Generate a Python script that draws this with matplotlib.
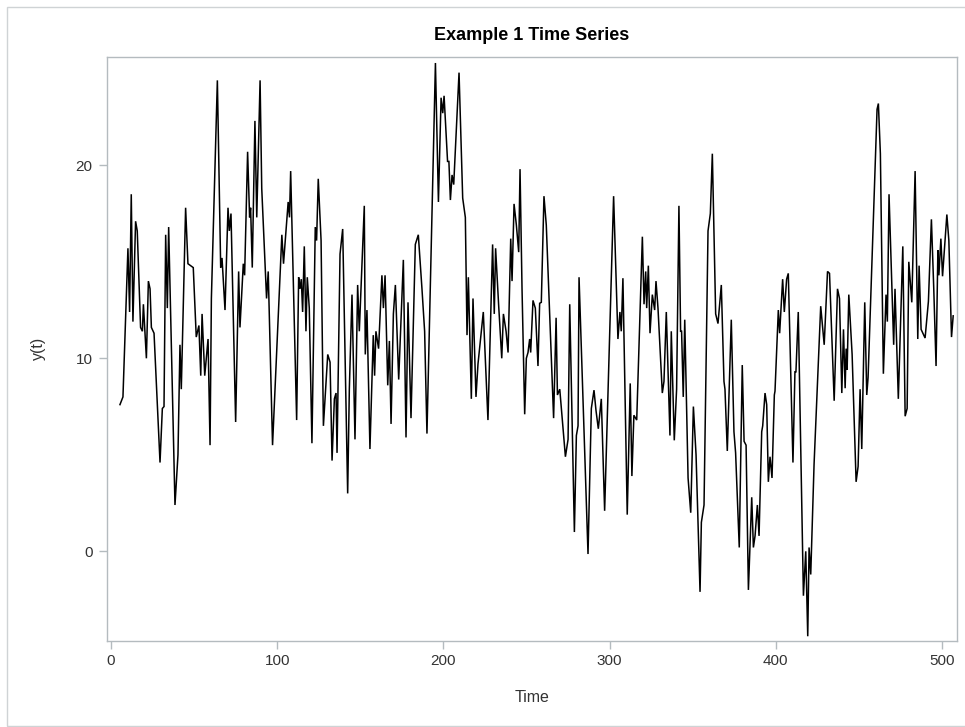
import matplotlib
matplotlib.use("Agg")
import matplotlib.pyplot as plt
from matplotlib.patches import Rectangle

# Turning points of the series (time, y(t))
time = [
    5.4, 7.2, 10.2, 11.2, 12.2, 13.2, 14.8, 15.8, 17.8, 18.9, 19.5, 21.3, 22.5, 23.5, 24.3, 25.9,
    29.5, 30.9, 31.9, 32.9, 33.9, 34.7, 38.5, 40.3, 41.5, 42.3, 44.9, 46.3, 49.5, 51.3, 52.9, 54.0,
    54.8, 56.4, 58.4, 59.6, 60.4, 64.0, 66.0, 66.8, 68.6, 70.4, 71.2, 72.2, 75.0, 76.8, 77.6, 79.6,
    80.4, 82.2, 83.4, 84.0, 85.0, 86.6, 87.7, 89.7, 90.7, 93.6, 94.6, 97.2, 102.8, 103.8, 106.6,
    107.4, 108.1, 111.7, 112.9, 113.7, 114.5, 115.3, 116.3, 117.3, 118.1, 119.3, 120.9, 122.9,
    123.7, 124.7, 126.4, 127.8, 130.4, 131.8, 133.0, 134.4, 135.4, 136.0, 137.8, 139.4, 142.4,
    143.4, 145.0, 146.8, 148.4, 149.4, 150.4, 152.4, 153.0, 154.0, 155.8, 157.8, 158.6, 159.4,
    161.0, 163.0, 163.9, 164.9, 166.5, 167.5, 168.5, 169.9, 171.1, 173.1, 175.9, 177.5, 178.7,
    180.5, 183.1, 184.9, 187.1, 188.7, 190.1, 195.2, 197.0, 198.6, 199.6, 200.4, 202.5, 203.3,
    204.2, 205.2, 206.2, 209.4, 211.6, 213.2, 214.2, 215.0, 216.8, 217.8, 219.6, 220.8, 224.0,
    226.8, 229.6, 230.6, 231.4, 233.2, 235.1, 236.1, 237.7, 238.9, 240.5, 241.3, 242.5, 243.9,
    245.3, 246.1, 247.3, 248.9, 249.9, 250.9, 251.9, 252.5, 253.9, 255.3, 256.9, 257.9, 258.9,
    260.5, 261.9, 266.3, 267.8, 268.6, 270.0, 273.4, 275.0, 276.0, 278.8, 280.0, 281.0, 281.6,
    287.0, 289.0, 290.6, 291.8, 293.2, 295.0, 297.0, 302.4, 305.0, 306.2, 307.0, 308.0, 310.6,
    312.4, 313.4, 314.6, 316.3, 319.7, 320.7, 321.7, 322.3, 323.3, 324.3, 325.7, 327.1, 327.9,
    329.1, 331.7, 332.7, 334.1, 336.3, 337.1, 338.9, 340.3, 341.7, 342.7, 343.3, 344.3, 345.2,
    347.2, 348.8, 350.4, 352.0, 354.4, 355.2, 356.8, 359.2, 360.6, 361.8, 363.8, 365.2, 367.2,
    368.8, 369.4, 370.8, 373.2, 374.8, 375.8, 378.0, 379.8, 380.9, 382.1, 383.5, 385.5, 386.5,
    387.5, 388.9, 389.9, 391.5, 392.1, 393.5, 394.5, 395.5, 396.5, 397.7, 399.1, 399.5, 401.5,
    402.3, 404.1, 405.1, 406.5, 407.5, 410.3, 411.5, 412.1, 413.5, 416.6, 418.0, 419.2, 420.0,
    421.0, 423.0, 427.0, 429.1, 431.1, 432.3, 435.1, 437.1, 438.3, 439.7, 440.7, 441.7, 442.3,
    442.9, 443.9, 445.9, 448.3, 449.5, 450.7, 451.7, 453.5, 454.7, 455.5, 460.9, 461.7, 462.9,
    464.7, 466.3, 467.1, 468.1, 470.9, 471.7, 473.7, 476.4, 477.8, 479.0, 480.0, 481.8, 483.8,
    485.4, 486.2, 487.4, 489.8, 491.8, 493.6, 495.0, 496.4, 497.5, 498.1, 499.3, 500.3, 502.9,
    504.1, 505.7, 506.7,
]
y_t = [
    7.6, 8.0, 15.7, 12.4, 18.5, 11.9, 17.1, 16.6, 11.6, 11.4, 12.8, 10.0, 14.0, 13.6, 11.6, 11.3,
    4.6, 7.4, 7.5, 16.4, 12.6, 16.8, 2.4, 5.0, 10.7, 8.4, 17.8, 14.9, 14.7, 11.1, 11.7, 9.1,
    12.3, 9.1, 11.0, 5.5, 13.1, 24.4, 14.7, 15.2, 12.5, 17.8, 16.6, 17.5, 6.7, 14.5, 11.6, 14.9,
    14.3, 20.7, 17.3, 17.8, 14.7, 22.3, 17.3, 24.4, 18.8, 13.1, 14.5, 5.5, 16.4, 14.9, 18.1,
    17.3, 19.7, 6.8, 14.2, 13.6, 14.1, 12.4, 15.8, 11.4, 14.2, 12.6, 5.6, 16.8,
    16.1, 19.3, 16.1, 6.5, 10.2, 9.8, 4.7, 7.9, 8.2, 5.1, 15.4, 16.7, 3.0,
    8.4, 13.3, 5.8, 13.8, 11.4, 13.6, 17.9, 10.2, 12.5, 5.3, 11.2, 9.1, 11.4,
    10.5, 14.3, 12.6, 14.3, 8.6, 10.9, 6.6, 12.3, 13.8, 8.9, 15.1, 5.9, 12.9,
    6.9, 15.9, 16.4, 13.6, 11.4, 6.1, 25.3, 18.1, 23.5, 22.7, 23.6, 20.2, 20.2,
    18.2, 19.5, 19.0, 24.8, 18.3, 17.3, 11.2, 14.2, 7.9, 13.1, 8.0, 9.7, 12.4,
    6.8, 15.9, 12.3, 15.7, 12.8, 10.0, 12.3, 11.4, 10.3, 16.2, 14.0, 18.0, 16.9,
    15.5, 19.8, 13.6, 7.1, 10.0, 10.3, 11.0, 10.3, 13.0, 12.6, 9.6, 12.85, 12.9,
    18.4, 16.9, 6.9, 12.1, 8.1, 8.4, 4.9, 5.8, 12.8, 1.0, 6.0, 6.5, 14.2,
    -0.14, 7.4, 8.35, 7.3, 6.35, 7.9, 2.1, 18.4, 11.0, 12.4, 11.4, 14.15, 1.9,
    8.7, 3.9, 7.05, 6.8, 16.3, 12.8, 14.5, 12.6, 14.8, 11.3, 13.3, 12.5, 14.0,
    12.6, 8.2, 8.8, 12.4, 6.0, 11.4, 5.75, 8.4, 17.9, 11.4, 11.4, 8.0, 12.0,
    3.8, 2.0, 7.5, 5.0, -2.1, 1.5, 2.4, 16.6, 17.5, 20.6, 12.3, 11.8, 13.8,
    8.8, 8.4, 5.2, 12.0, 6.2, 5.1, 0.2, 9.65, 5.7, 5.5, -2.0, 2.8, 0.2,
    0.8, 2.4, 0.8, 6.2, 6.5, 8.2, 7.6, 3.6, 4.9, 3.8, 8.1, 8.3, 12.5,
    11.3, 14.1, 12.4, 14.1, 14.4, 4.6, 9.3, 9.3, 12.4, -2.3, 0.0, -4.4, 0.2,
    -1.2, 4.5, 12.7, 10.7, 14.5, 14.4, 7.8, 13.6, 13.1, 8.2, 11.5, 8.45, 10.5,
    9.4, 13.3, 10.2, 3.6, 4.4, 8.4, 5.3, 12.9, 8.1, 9.0, 22.9, 23.2, 20.6,
    9.2, 13.3, 11.9, 18.5, 10.7, 13.6, 7.9, 15.8, 7.0, 7.4, 15.0, 12.9, 19.7,
    11.0, 14.8, 11.5, 11.05, 12.95, 17.2, 13.65, 9.6, 15.6, 14.3, 16.2, 14.25, 17.45,
    16.1, 11.1, 12.2,
]

title = "Example 1 Time Series"
x_label = "Time"
y_label = "y(t)"
x_ticks = [0, 100, 200, 300, 400, 500]
y_ticks = [0, 10, 20]

plt.rcParams['font.family'] = ['Liberation Sans', 'DejaVu Sans']

W, H = 965, 727
fig = plt.figure(figsize=(W / 100, H / 100), dpi=100)
fig.patch.set_facecolor('white')

# outer light border
fig.add_artist(Rectangle((7 / W, 1 / H), 960 / W, 719 / H, transform=fig.transFigure,
                         fill=False, edgecolor='#cfd3d5', linewidth=1.0))

left, right, top, bottom = 106.5, 957.0, 57.0, 640.5
ax = fig.add_axes([left / W, 1 - bottom / H, (right - left) / W, (bottom - top) / H])
ax.plot(time, y_t, color='black', linewidth=1.1, solid_joinstyle='miter')

ax.set_xlim(-2.7, 509)
ax.set_ylim(-4.62, 25.61)
ax.set_xticks(x_ticks)
ax.set_yticks(y_ticks)
frame_col = '#b4bbbf'
for s in ax.spines.values():
    s.set_color(frame_col)
    s.set_linewidth(1.0)
ax.tick_params(direction='out', length=6, width=1, color=frame_col,
               labelsize=11, labelcolor='#333333', pad=4)

fig.text((left + right) / 2 / W, 1 - 36 / H, title, ha='center', va='center',
         fontsize=13, fontweight='bold', color='black')
fig.text((left + right) / 2 / W, 1 - 697 / H, x_label, ha='center', va='center',
         fontsize=11.5, color='#333333')
fig.text(38 / W, 1 - 348 / H, y_label, ha='center', va='center', rotation=90,
         fontsize=11.5, color='#333333')

fig.savefig('out.png', dpi=100)
